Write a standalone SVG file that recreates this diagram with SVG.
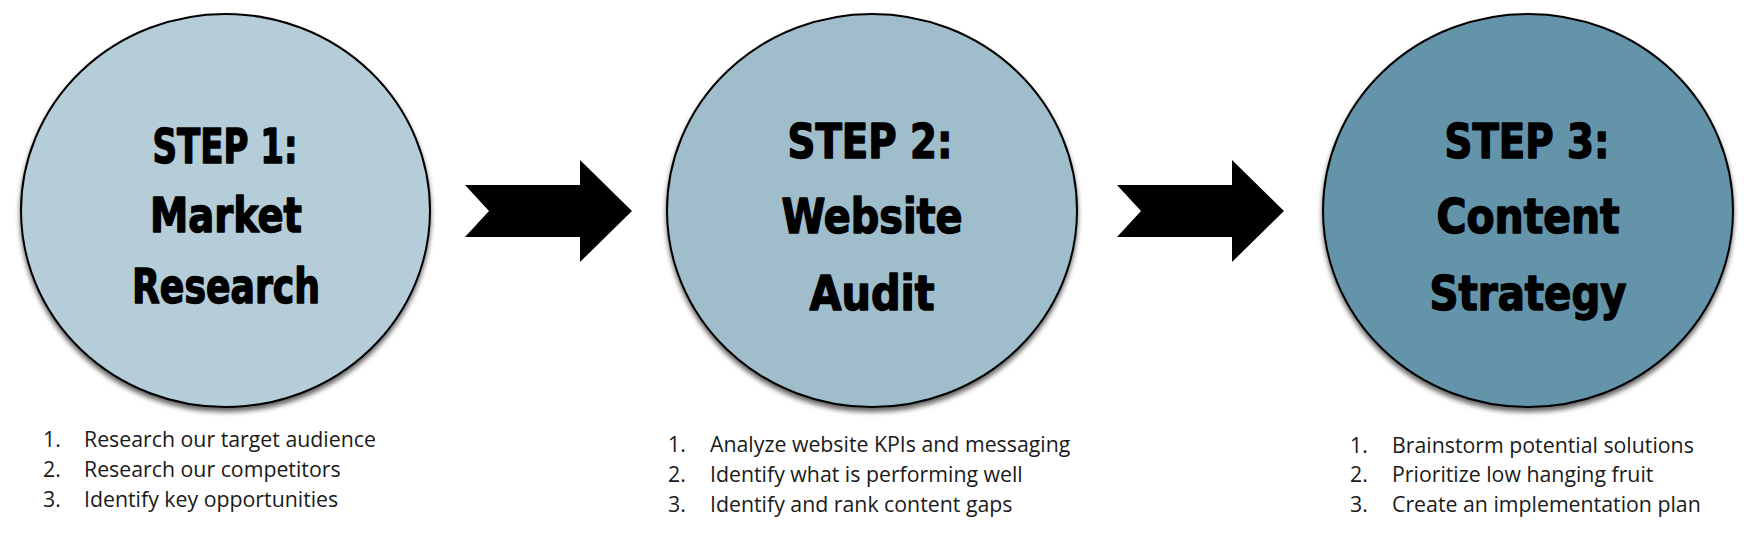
<svg xmlns="http://www.w3.org/2000/svg" width="1750" height="538" viewBox="0 0 1750 538">
<defs>
<filter id="sh" x="-10%" y="-10%" width="120%" height="125%">
<feDropShadow dx="0" dy="4" stdDeviation="2.5" flood-color="#000" flood-opacity="0.6"/>
</filter>
<style>
.c{stroke:#000;stroke-width:2;filter:url(#sh)}
.t{font-family:"DejaVu Sans Condensed","DejaVu Sans","Liberation Sans",sans-serif;font-weight:bold;font-size:48px;fill:#000;stroke:#000;stroke-width:1.4;stroke-linejoin:round;text-anchor:middle}
.l{font-family:"Open Sans","Noto Sans",sans-serif;font-size:21.3px;fill:#1a1a1a}
.a{fill:#000}
</style>
</defs>
<rect width="1750" height="538" fill="#fff"/>
<g id="step1">
<ellipse class="c" cx="225.5" cy="210.5" rx="204.5" ry="196.5" fill="#b5cdd8"/>
<text class="t" x="225" y="163" textLength="145" lengthAdjust="spacingAndGlyphs">STEP 1:</text>
<text class="t" x="226" y="232" textLength="152" lengthAdjust="spacingAndGlyphs">Market</text>
<text class="t" x="226" y="303" textLength="188" lengthAdjust="spacingAndGlyphs">Research</text>
<text class="l" y="447"><tspan x="43">1.</tspan><tspan x="84">Research our target audience</tspan></text>
<text class="l" y="477"><tspan x="43">2.</tspan><tspan x="84">Research our competitors</tspan></text>
<text class="l" y="507"><tspan x="43">3.</tspan><tspan x="84">Identify key opportunities</tspan></text>
</g>
<g id="step2">
<ellipse class="c" cx="872" cy="210.5" rx="205" ry="196.5" fill="#a0bdcb"/>
<text class="t" x="870" y="158" textLength="165" lengthAdjust="spacingAndGlyphs">STEP 2:</text>
<text class="t" x="872" y="233" textLength="181" lengthAdjust="spacingAndGlyphs">Website</text>
<text class="t" x="872" y="310" textLength="125" lengthAdjust="spacingAndGlyphs">Audit</text>
<text class="l" y="452"><tspan x="668">1.</tspan><tspan x="710">Analyze website KPIs and messaging</tspan></text>
<text class="l" y="482"><tspan x="668">2.</tspan><tspan x="710">Identify what is performing well</tspan></text>
<text class="l" y="512"><tspan x="668">3.</tspan><tspan x="710">Identify and rank content gaps</tspan></text>
</g>
<g id="step3">
<ellipse class="c" cx="1528" cy="210.5" rx="205" ry="196.5" fill="#6494aa"/>
<text class="t" x="1527" y="158" textLength="165" lengthAdjust="spacingAndGlyphs">STEP 3:</text>
<text class="t" x="1528" y="233" textLength="183" lengthAdjust="spacingAndGlyphs">Content</text>
<text class="t" x="1528" y="310" textLength="197" lengthAdjust="spacingAndGlyphs">Strategy</text>
<text class="l" y="453"><tspan x="1350">1.</tspan><tspan x="1392">Brainstorm potential solutions</tspan></text>
<text class="l" y="482"><tspan x="1350">2.</tspan><tspan x="1392">Prioritize low hanging fruit</tspan></text>
<text class="l" y="512"><tspan x="1350">3.</tspan><tspan x="1392">Create an implementation plan</tspan></text>
</g>
<g id="connectors">
<polygon class="a" points="465,185 580,185 580,160 632,211 580,262 580,237 465,237 489,211"/>
<polygon class="a" points="1117,185 1232,185 1232,160 1284,211 1232,262 1232,237 1117,237 1141,211"/>
</g>
</svg>
